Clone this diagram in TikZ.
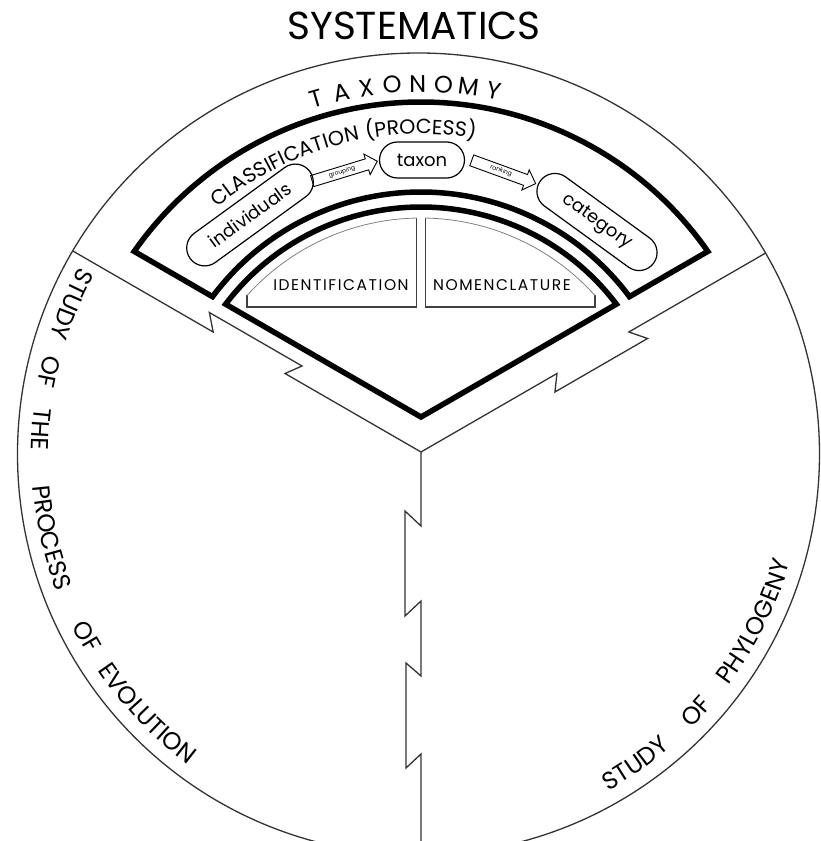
\documentclass[tikz,border=0pt]{standalone}
\usepackage{fontspec}
\setmainfont{Poppins}
\usetikzlibrary{decorations.text,shapes.arrows,shapes.misc}
\newcommand\sidefont{\fontsize{24.5}{24.5}\selectfont\addfontfeature{LetterSpace=6}}
\newcommand\clsfont{\fontsize{20.5}{20.5}\selectfont\addfontfeature{LetterSpace=5}}
\begin{document}
\begin{tikzpicture}[x=1pt,y=1pt,
  thickline/.style={line width=5.5pt, line join=miter},
  thinline/.style={line width=1.3pt, draw=black!80, line join=miter},
  capsule/.style={draw, line width=1.2pt, rounded rectangle, minimum height=36pt, inner sep=0pt},
  blockarrow/.style={draw, line width=0.9pt, single arrow, single arrow head extend=5pt,
     minimum height=68pt, inner sep=2.2pt, font=\fontsize{6}{6}\selectfont},
  boxline/.style={line width=1.8pt, draw=black!75},
  arcline/.style={line width=0.8pt, draw=black!50},
  capfont/.style={font=\fontsize{18}{18}\selectfont},
  smallcaps/.style={font=\fontsize{15.5}{15.5}\selectfont\addfontfeature{LetterSpace=10}},
  sidetext/.style={decorate, decoration={text along path, text={#1}, text align=center}}
]
\useasboundingbox (-421,-389) rectangle (400,452);
\fill[white] (-421,-389) rectangle (400,452);

% outer circle
\coordinate (cc) at (-2.5,-2);
\draw[thinline] (cc) circle[radius=401];

% dividers with breaks
\foreach \a/\e in {150/402.2,30/397.8}{
  \draw[thinline, rotate=\a] (0,0) -- (157,0) -- (146,-15) -- (253,-15) -- (240,0) -- (\e,0);
}
\draw[thinline, rotate=270] (0,0) -- (74,0) -- (59,-16) -- (164,-16) -- (149,0) -- (224,0)
   -- (211,-15) -- (316,-15) -- (302,0) -- (403,0);

% inner fan
\draw[thickline] (0,35) -- (37.11:245) arc[start angle=37.11, end angle=142.89, radius=245] -- cycle;
% taxonomy band
\draw[thickline] (36.69:260) -- (34.97:350) arc[start angle=34.97, end angle=145.03, radius=350]
   -- (143.31:260) arc[start angle=143.31, end angle=36.69, radius=260] -- cycle;

% title
\node[font=\fontsize{39}{39}\selectfont, anchor=base] (title) at (-7,412) {SYSTEMATICS};

% TAXONOMY
\foreach \ch [count=\i] in {T,A,X,O,N,O,M,Y}{
  \pgfmathsetmacro\ang{106.5-(\i-1)*4}
  \node[font=\fontsize{24}{24}\selectfont, rotate=\ang-90, anchor=base, inner sep=0pt] (tx\i) at (\ang:360) {\ch};
}

% CLASSIFICATION (PROCESS)
\path[sidetext={|\clsfont|CLASSIFICATION (PROCESS)}]
   (150:318) arc[start angle=150, end angle=60, radius=318];

% capsules
\node[capsule, capfont, minimum width=85pt] (taxon) at (1,292) {taxon};
\node[capsule, capfont, minimum width=148pt, rotate=36] (indiv) at (-171,237) {individuals};
\node[capsule, capfont, minimum width=140pt, rotate=-36] (categ) at (176,230) {category};

% block arrows
\node[blockarrow, rotate=17] (grp) at (-79,280) {grouping};
\node[blockarrow, rotate=-20] (rnk) at (80,281) {ranking};

% identification / nomenclature
\draw[boxline] (-4.5,233.96) -- (-4.5,145) -- (-174,145) -- (-174,156.5);
\draw[boxline] (4.5,233.96) -- (4.5,145) -- (174,145) -- (174,156.5);
\draw[arcline] (138.03:234) arc[start angle=138.03, end angle=91.1, radius=234];
\draw[arcline] (88.9:234) arc[start angle=88.9, end angle=41.97, radius=234];
\node[smallcaps, anchor=base] (ident) at (-80,161) {IDENTIFICATION};
\node[smallcaps, anchor=base] (nomen) at (81,161) {NOMENCLATURE};

% side texts, word by word, on an arc concentric with the circle
\begin{scope}[shift={(cc)}]
\path[sidetext={|\sidefont|STUDY}] (131.7:387) arc[start angle=131.7, end angle=181.7, radius=387];
\path[sidetext={|\sidefont|OF}] (142.5:387) arc[start angle=142.5, end angle=192.5, radius=387];
\path[sidetext={|\sidefont|THE}] (151.3:387) arc[start angle=151.3, end angle=201.3, radius=387];
\path[sidetext={|\sidefont|PROCESS}] (167.8:387) arc[start angle=167.8, end angle=217.8, radius=387];
\path[sidetext={|\sidefont|OF}] (183.8:387) arc[start angle=183.8, end angle=233.8, radius=387];
\path[sidetext={|\sidefont|EVOLUTION}] (198.7:387) arc[start angle=198.7, end angle=248.7, radius=387];
\path[sidetext={|\sidefont|STUDY}] (-80:387) arc[start angle=-80, end angle=-30, radius=387];
\path[sidetext={|\sidefont|OF}] (-67.8:387) arc[start angle=-67.8, end angle=-17.8, radius=387];
\path[sidetext={|\sidefont|PHYLOGENY}] (-51.5:387) arc[start angle=-51.5, end angle=-1.5, radius=387];
\end{scope}
\end{tikzpicture}
\end{document}
